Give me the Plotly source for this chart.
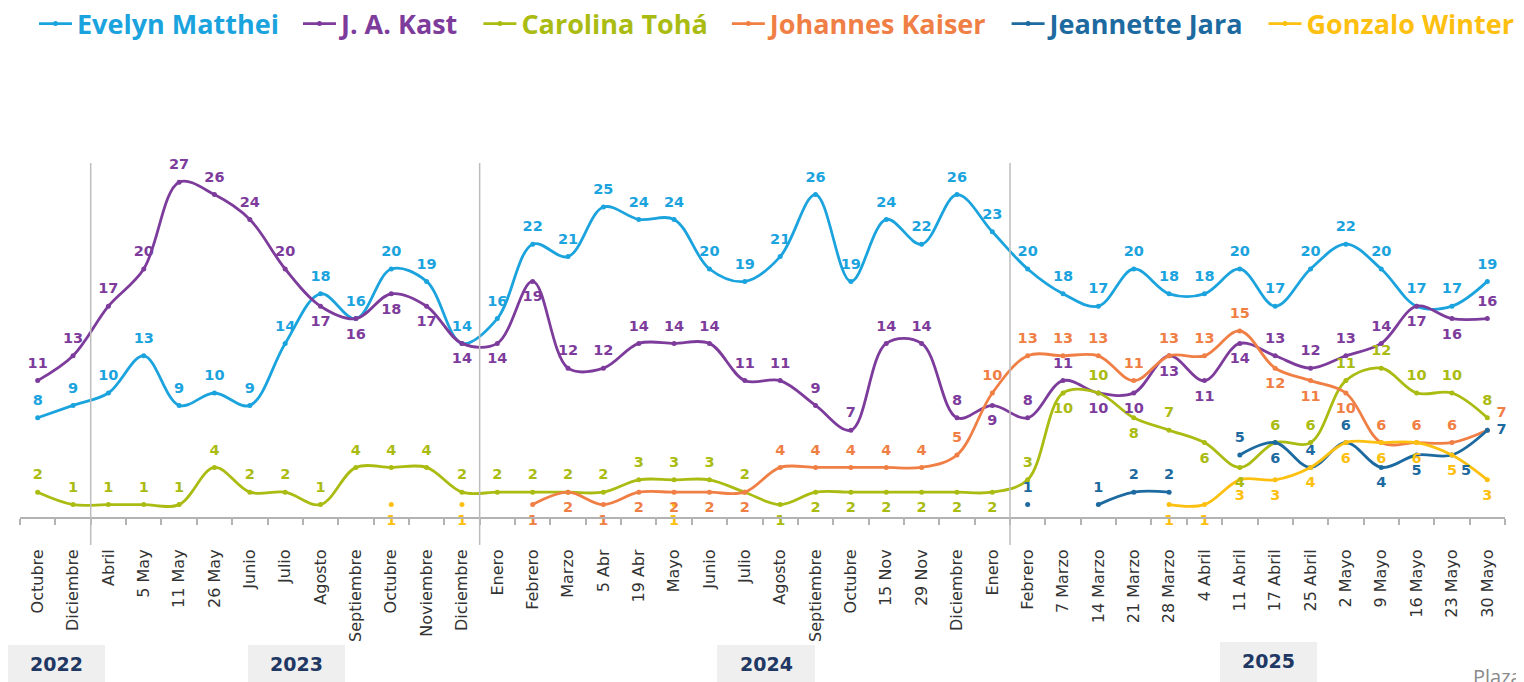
import plotly.graph_objects as go

categories = ["Octubre", "Diciembre", "Abril", "5 May", "11 May", "26 May", "Junio", "Julio",
              "Agosto", "Septiembre", "Octubre", "Noviembre", "Diciembre", "Enero", "Febrero",
              "Marzo", "5 Abr", "19 Abr", "Mayo", "Junio", "Julio", "Agosto", "Septiembre",
              "Octubre", "15 Nov", "29 Nov", "Diciembre", "Enero", "Febrero", "7 Marzo",
              "14 Marzo", "21 Marzo", "28 Marzo", "4 Abril", "11 Abril", "17 Abril", "25 Abril",
              "2 Mayo", "9 Mayo", "16 Mayo", "23 Mayo", "30 Mayo"]
N = None
matthei = [8, 9, 10, 13, 9, 10, 9, 14, 18, 16, 20, 19, 14, 16, 22, 21, 25, 24, 24, 20, 19, 21,
           26, 19, 24, 22, 26, 23, 20, 18, 17, 20, 18, 18, 20, 17, 20, 22, 20, 17, 17, 19]
kast = [11, 13, 17, 20, 27, 26, 24, 20, 17, 16, 18, 17, 14, 14, 19, 12, 12, 14, 14, 14, 11, 11,
        9, 7, 14, 14, 8, 9, 8, 11, 10, 10, 13, 11, 14, 13, 12, 13, 14, 17, 16, 16]
toha = [2, 1, 1, 1, 1, 4, 2, 2, 1, 4, 4, 4, 2, 2, 2, 2, 2, 3, 3, 3, 2, 1, 2, 2, 2, 2, 2, 2,
        3, 10, 10, 8, 7, 6, 4, 6, 6, 11, 12, 10, 10, 8]
kaiser = [N] * 14 + [1, 2, 1, 2, 2, 2, 2, 4, 4, 4, 4, 4, 5, 10, 13, 13, 13, 11, 13, 13, 15, 12,
                     11, 10, 6, 6, 6, 7]
jara = [N] * 28 + [1, N, 1, 2, 2, N, 5, 6, 4, 6, 4, 5, 5, 7]
winter = [N] * 10 + [1, N, 1, N, N, N, N, N, 1] + [N] * 13 + [1, 1, 3, 3, 4, 6, 6, 6, 5, 3]

years = ["2022", "2023", "2024", "2025"]

# label placement codes (style): t=top, b=bottom, r=right, T=top right, B=bottom right
pos_matthei = "t" * 42
pos_kast = "t" * 8 + "b" * 7 + "t" * 12 + "b" + "tt" + "b" * 5 + "t" * 4 + "bb" + "t"
pos_toha = "t" * 21 + "b" * 7 + "tbtbtbb" + "t" * 7
pos_kaiser = "t" * 14 + "b" * 7 + "t" * 14 + "bbb" + "ttt" + "T"
pos_jara = "t" * 28 + "ttttttt" + "b" + "tt" + "bb" + "B" + "r"
pos_winter = "b" * 42
posmap = {"t": "top center", "b": "bottom center", "r": "middle right",
          "T": "top right", "B": "bottom right"}

series = [
    ("Evelyn Matthei", matthei, "#1ba3de", pos_matthei),
    ("J. A. Kast", kast, "#7d3c9c", pos_kast),
    ("Carolina Tohá", toha, "#aabb12", pos_toha),
    ("Johannes Kaiser", kaiser, "#f07f45", pos_kaiser),
    ("Jeannette Jara", jara, "#1d6aa0", pos_jara),
    ("Gonzalo Winter", winter, "#fdc010", pos_winter),
]

xs = list(range(len(categories)))
fig = go.Figure()
for i, (name, vals, col, pos) in enumerate(series):
    pad = "\u00a0\u00a0" if i < len(series) - 1 else ""
    fig.add_trace(go.Scatter(
        x=xs, y=vals, mode="lines+markers",
        name=f"<span style='color:{col}'>{name}</span>{pad}",
        line=dict(color=col, width=2.8, shape="spline", smoothing=1.0),
        marker=dict(color=col, size=5),
        connectgaps=False, hoverinfo="skip",
    ))
for name, vals, col, pos in series:
    fig.add_trace(go.Scatter(
        x=xs, y=vals, mode="markers+text", showlegend=False,
        text=["" if v is None else str(v) for v in vals],
        textposition=[posmap[c] for c in pos],
        marker=dict(size=13, opacity=0, color=col),
        textfont=dict(family="DejaVu Sans", size=14.5, color=col, weight="bold"),
        cliponaxis=False, hoverinfo="skip",
    ))

# the page body adds an 8px offset; screen px -> figure px
OFF = 8
W, H = 1524, 682
L, T = 20 - OFF, 145 - OFF
R = W - (1505 - OFF)
B = H - (517 - OFF)
pw, ph = W - L - R, H - T - B


def px_x(p):
    return (p - OFF - L) / pw


def px_y(p):
    return (H - B - (p - OFF)) / ph


shapes = []
for xv in [1.5, 12.5, 27.5]:
    shapes.append(dict(type="line", xref="x", yref="paper", x0=xv, x1=xv,
                       y0=px_y(545), y1=px_y(163), line=dict(color="#bdbdbd", width=1.5)))
boxes = [(8, 105, 645, 682), (248, 345, 645, 682), (717, 815, 645, 682), (1220, 1317, 642, 680)]
annotations = []
for (x0, x1, y0, y1), yr in zip(boxes, years):
    shapes.append(dict(type="rect", xref="paper", yref="paper", x0=px_x(x0), x1=px_x(x1),
                       y0=px_y(y1 + 10), y1=px_y(y0), fillcolor="#efefef", line=dict(width=0),
                       layer="below"))
    annotations.append(dict(xref="paper", yref="paper", x=px_x((x0 + x1) / 2),
                            y=px_y((y0 + y1) / 2), xanchor="center", yanchor="middle",
                            text=yr, showarrow=False,
                            font=dict(family="DejaVu Sans", size=19, color="#1f3864",
                                      weight="bold")))
annotations.append(dict(xref="paper", yref="paper", x=px_x(1471), y=px_y(676), xanchor="left",
                        yanchor="middle", text="Plaza Pública", showarrow=False,
                        font=dict(family="Open Sans", size=20, color="#8a8a8a")))

fig.update_layout(
    width=W, height=H,
    margin=dict(l=L, r=R, t=T, b=B, autoexpand=False),
    plot_bgcolor="white", paper_bgcolor="white",
    showlegend=True,
    legend=dict(orientation="h", x=px_x(1519), y=px_y(24), xanchor="right", yanchor="middle",
                font=dict(family="Open Sans", size=27, weight="bold"),
                itemwidth=33, tracegroupgap=0, bgcolor="rgba(0,0,0,0)"),
    xaxis=dict(range=[-0.5, 41.5], tickmode="array", tickvals=xs, ticktext=categories,
               tickangle=-90, tickfont=dict(family="DejaVu Sans", size=16, color="#333333"),
               ticklabelstandoff=24, automargin=False,
               showline=True, linecolor="#b3b3b3", linewidth=2, ticks="",
               showgrid=False, zeroline=False,
               minor=dict(ticks="outside", ticklen=6, tickwidth=1.5, tickcolor="#b3b3b3",
                          tickmode="array", tickvals=[i - 0.5 for i in range(43)],
                          showgrid=False)),
    yaxis=dict(range=[0, 30], visible=False, showgrid=False, zeroline=False, automargin=False),
    shapes=shapes, annotations=annotations,
)

fig.write_html("out.html")
